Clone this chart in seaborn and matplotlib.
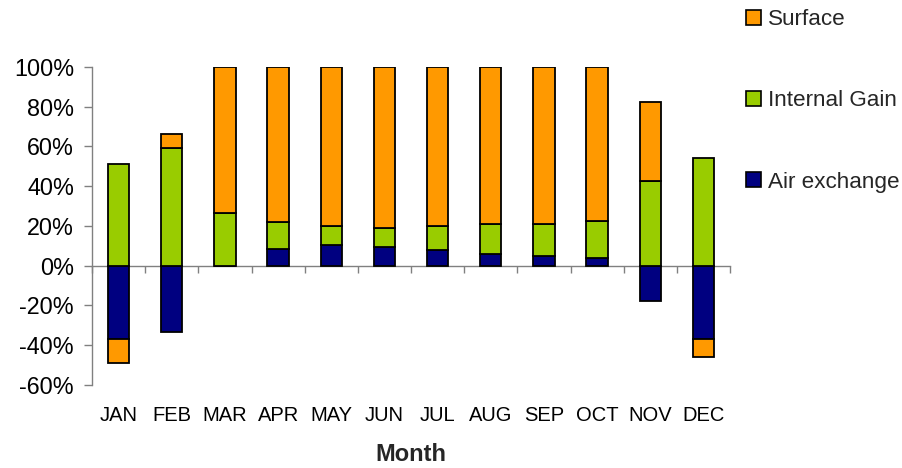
import matplotlib
matplotlib.use("Agg")
import matplotlib.pyplot as plt
from matplotlib.patches import Patch
from matplotlib.ticker import PercentFormatter
import numpy as np
import pandas as pd
import seaborn as sns

# Monthly share of each heat-balance component (% of total absolute flow)
months = ["JAN", "FEB", "MAR", "APR", "MAY", "JUN",
          "JUL", "AUG", "SEP", "OCT", "NOV", "DEC"]
air_exchange = [-36.7, -33.5, 0.0, 8.5, 10.5, 9.5, 7.7, 6.0, 5.0, 4.0, -17.7, -36.7]
internal_gain = [51.0, 59.3, 26.5, 13.3, 9.5, 9.3, 12.3, 15.0, 16.0, 18.7, 42.7, 54.0]
surface = [-12.3, 7.2, 73.5, 78.2, 80.0, 81.2, 80.0, 79.0, 79.0, 77.3, 39.6, -9.3]

series_names = ["Air exchange", "Internal Gain", "Surface"]
series_values = [air_exchange, internal_gain, surface]
series_colors = ["#000080", "#99CC00", "#FF9900"]

sns.set_theme(style="white")
plt.rcParams["font.family"] = ["Liberation Sans", "DejaVu Sans"]
plt.rcParams["axes.unicode_minus"] = False

fig = plt.figure(figsize=(9.02, 4.68), dpi=100)
ax = fig.add_axes([92 / 902, 1 - 385 / 468, (730 - 92) / 902, (385 - 67) / 468])

# Stack positives upward and negatives downward, in series order
pos_base = np.zeros(len(months))
neg_base = np.zeros(len(months))
for name, vals, color in zip(series_names, series_values, series_colors):
    vals = np.asarray(vals, dtype=float)
    bottom = np.where(vals >= 0, pos_base, neg_base)
    df = pd.DataFrame({"Month": months, "Share": vals})
    sns.barplot(data=df, x="Month", y="Share", order=months, color=color,
                saturation=1, width=0.4, bottom=bottom, edgecolor="black",
                linewidth=1.3, ax=ax)
    pos_base += np.where(vals >= 0, vals, 0)
    neg_base += np.where(vals < 0, vals, 0)

ymin, ymax = -60, 100
ax.set_ylim(ymin, ymax)
ax.set_xlim(-0.5, len(months) - 0.5)
ax.set_yticks(np.arange(-60, 101, 20))
ax.yaxis.set_major_formatter(PercentFormatter(decimals=0))

axis_gray = "#808080"
for side in ["top", "right", "bottom"]:
    ax.spines[side].set_visible(False)
ax.spines["left"].set_color(axis_gray)
ax.spines["left"].set_linewidth(1.0)

ax.tick_params(axis="y", left=True, direction="out", length=6, width=1,
               color=axis_gray, pad=7, labelsize=16.8, labelcolor="black")
ax.tick_params(axis="x", bottom=False, length=0, pad=15, labelsize=14.5,
               labelcolor="black")
ax.set_ylabel("")
ax.set_xlabel("Month", fontsize=17, fontweight="bold", labelpad=13)

# Zero line with category-boundary ticks
zero_loc = (0 - ymin) / (ymax - ymin)
zero_axis = ax.secondary_xaxis(zero_loc)
zero_axis.set_xticks(np.arange(-0.5, len(months), 1.0))
zero_axis.tick_params(axis="x", direction="out", length=5, width=1,
                      color=axis_gray, labelbottom=False)
zero_axis.spines["bottom"].set_color(axis_gray)
zero_axis.spines["bottom"].set_linewidth(1.0)

handles = [Patch(facecolor=c, edgecolor="black", linewidth=1.2, label=n)
           for n, c in zip(series_names[::-1], series_colors[::-1])]
fig.legend(handles=handles, loc="upper left", bbox_to_anchor=(746 / 902, 1 - 9 / 468),
           frameon=False, fontsize=16.2, handlelength=0.66, handleheight=0.66,
           handletextpad=0.3, labelspacing=2.68, borderpad=0, borderaxespad=0)

fig.savefig("out.png", dpi=100)
